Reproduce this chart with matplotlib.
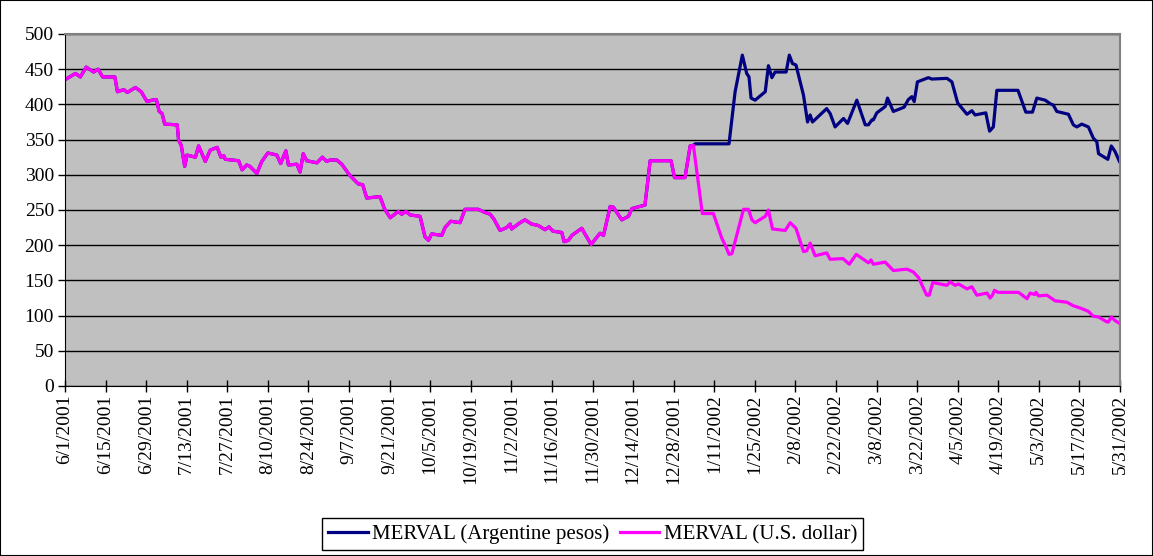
import datetime as dt
import matplotlib.pyplot as plt
from matplotlib.patches import Rectangle

# days since 6/1/2001, MERVAL index before the devaluation (pesos == dollars)
common_days = [0.4, 3.6, 5.3, 7.3, 9.9, 11.4, 13.0, 17.2, 18.1, 20.3, 21.5, 24.3, 26.3, 28.3,
               30.0, 31.5, 32.5, 33.5, 34.4, 38.7, 39.2, 40.1, 41.3, 42.1, 45.0, 46.1, 48.4,
               50.1, 52.5, 53.8, 54.8, 55.3, 59.9, 61.1, 62.7, 63.8, 66.2, 67.9, 70.0, 73.1,
               74.4, 76.2, 77.1, 80.0, 81.1, 82.2, 83.4, 86.9, 88.8, 90.3, 91.4, 93.8, 95.5,
               98.1, 101.2, 102.7, 104.1, 108.7, 110.2, 112.2, 115.0, 116.2, 117.6, 119.1,
               122.5, 124.2, 125.4, 126.5, 130.0, 131.1, 133.1, 136.3, 138.0, 142.6, 144.6,
               146.7, 148.0, 150.1, 152.4, 153.6, 154.1, 157.0, 158.7, 161.0, 163.3, 165.6,
               167.0, 168.3, 171.4, 172.2, 173.7, 174.9, 178.3, 181.5, 184.6, 185.8, 188.1,
               189.2, 192.1, 194.4, 195.6, 200.1, 201.9, 209.1, 210.3, 213.9, 215.7, 216.8]
common_vals = [436, 444, 439, 453, 446, 450, 439, 439, 418, 421, 417, 424, 418, 404,
               406, 407, 390, 387, 372, 371, 349, 342, 312, 328, 325, 341, 319,
               335, 339, 325, 327, 322, 320, 307, 314, 312, 302, 319, 331, 328,
               316, 334, 314, 315, 304, 330, 320, 317, 325, 319, 321, 321, 315,
               300, 287, 286, 267, 269, 252, 239, 248, 244, 248, 243,
               241, 212, 207, 216, 214, 225, 234, 232, 251, 251, 247,
               244, 237, 221, 225, 230, 223, 232, 236, 230, 228, 222,
               226, 220, 218, 205, 207, 214, 224, 201, 217, 214, 255,
               254, 236, 241, 252, 257, 320, 320, 296, 296, 341, 342]

# after the split: Argentine pesos
peso_days = [217.4, 229.1, 231.2, 233.7, 235.2, 236.0, 236.7, 238.1, 241.6, 242.7, 243.9,
             245.0, 248.8, 249.9, 251.0, 252.2, 254.8, 256.2, 257.1, 257.9, 262.8, 264.0,
             265.7, 268.6, 270.0, 273.2, 276.1, 277.2, 278.4, 278.9, 280.1, 283.0, 283.8,
             285.8, 289.5, 291.0, 292.2, 293.0, 294.1, 297.9, 299.1, 304.3, 306.0, 308.0,
             311.2, 312.9, 314.0, 317.7, 319.0, 320.3, 321.5, 328.8, 331.5, 333.8, 335.3,
             338.2, 339.9, 341.0, 342.2, 346.2, 347.9, 349.1, 350.8, 353.1, 354.8, 356.0,
             356.6, 359.8, 361.0, 362.3, 363.8]
peso_vals = [344, 344, 418, 470, 444, 439, 409, 406, 418, 455, 438,
             446, 446, 470, 458, 456, 413, 375, 385, 375, 394, 387,
             368, 380, 373, 406, 371, 371, 378, 378, 388, 397, 409,
             390, 396, 407, 411, 404, 432, 438, 436, 437, 432, 402,
             386, 391, 385, 388, 362, 368, 420, 420, 389, 389, 409,
             406, 401, 399, 390, 386, 371, 368, 372, 368, 352, 347,
             330, 322, 341, 333, 319]

# after the split: U.S. dollars
usd_days = [219.9, 223.7, 226.6, 227.8, 229.1, 230.1, 234.1, 235.8, 237.0, 238.1, 241.6,
            242.7, 244.1, 248.5, 250.2, 252.2, 254.8, 255.9, 257.1, 258.8, 262.8, 264.0,
            268.4, 270.6, 273.0, 277.2, 278.1, 278.9, 283.0, 285.8, 290.5, 292.7, 294.5,
            297.3, 298.2, 299.4, 304.3, 305.4, 307.1, 308.3, 311.2, 312.9, 314.6, 318.1,
            319.2, 320.0, 320.7, 321.9, 329.0, 331.9, 333.0, 334.5, 335.0, 335.9, 338.8,
            341.6, 345.7, 347.9, 350.8, 353.1, 354.8, 356.6, 359.5, 360.0, 361.0, 362.3,
            363.8]
usd_vals = [245, 245, 210, 200, 187, 188, 251, 251, 236, 232, 241,
            250, 223, 221, 232, 224, 191, 192, 203, 185, 189, 180,
            181, 173, 187, 175, 179, 173, 176, 164, 166, 162, 154,
            129, 129, 147, 143, 148, 143, 145, 138, 141, 129, 132,
            125, 129, 136, 133, 133, 124, 132, 130, 133, 128, 129,
            121, 119, 114, 110, 106, 99, 98, 91, 91, 98, 93,
            89]

start = dt.date(2001, 6, 1)
tick_days = list(range(0, 365, 14))
tick_labels = []
for d in tick_days:
    t = start + dt.timedelta(days=d)
    tick_labels.append(f"{t.month}/{t.day}/{t.year}")

plt.rcParams['font.family'] = ['Liberation Serif', 'DejaVu Serif']

fig = plt.figure(figsize=(11.53, 5.56), dpi=100)
ax = fig.add_axes([65 / 1153, 1 - 386 / 556, (1120 - 65) / 1153, (386 - 34) / 556])
ax.set_facecolor('#C0C0C0')

ax.plot(common_days + peso_days, common_vals + peso_vals, color='#000080', lw=2.3,
        label='MERVAL (Argentine pesos)', solid_joinstyle='round')
ax.plot(common_days + usd_days, common_vals + usd_vals, color='#FF00FF', lw=2.3,
        label='MERVAL (U.S. dollar)', solid_joinstyle='round')

ax.set_xlim(0, 364)
ax.set_ylim(0, 500)
ax.set_yticks(range(0, 501, 50))
ax.yaxis.grid(True, color='black', lw=1)
ax.set_axisbelow(True)
ax.set_xticks(tick_days)
ax.set_xticklabels(tick_labels, rotation=90, fontsize=14)
ax.tick_params(axis='y', labelsize=14, direction='out', length=5, width=1, pad=3)
ax.tick_params(axis='x', direction='inout', length=8, width=1, pad=2)

for side in ['top', 'right']:
    ax.spines[side].set_color('#808080')
    ax.spines[side].set_linewidth(1.5)
ax.spines['left'].set_color('black')
ax.spines['bottom'].set_color('black')

leg = fig.legend(loc='center', bbox_to_anchor=(0.514, 0.039), ncol=2, fontsize=15,
                 frameon=True, fancybox=False, framealpha=1, edgecolor='black',
                 handlelength=1.9, columnspacing=0.5, handletextpad=0.2,
                 borderpad=0.3, borderaxespad=0)
leg.get_frame().set_linewidth(1)

fig.patches.append(Rectangle((0, 0), 1, 1, transform=fig.transFigure, fill=False,
                             edgecolor='black', lw=1.5))

fig.savefig('out.png', dpi=100)
